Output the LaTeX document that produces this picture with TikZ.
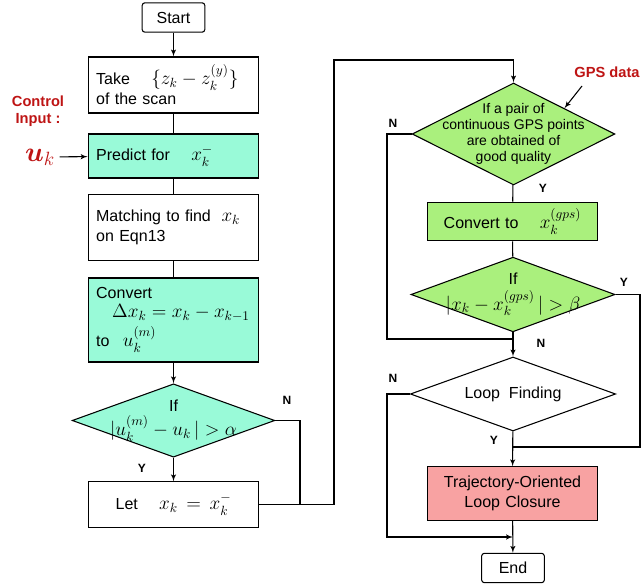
\documentclass[tikz,border=0pt]{standalone}
\usepackage{amssymb,amsmath}
\usepackage{fontspec}
\setmainfont{Liberation Sans}
\usepackage{tikz}
\usetikzlibrary{arrows,shapes}
\definecolor{mint}{RGB}{153,250,216}
\definecolor{lgreen}{RGB}{170,240,125}
\definecolor{rose}{RGB}{248,162,162}
\definecolor{darkred}{RGB}{190,20,20}
\newcommand{\mth}[1]{{\fontsize{14.5}{16}\selectfont$#1$}}
\tikzstyle{term}=[rectangle,rounded corners=2pt,draw,line width=0.8pt,minimum width=47pt,minimum height=22pt,font=\fontsize{12}{14}\selectfont]
\tikzstyle{box}=[rectangle,draw,line width=0.8pt,minimum width=128pt,text width=116pt,inner xsep=6pt,align=left,font=\fontsize{12}{15}\selectfont]
\tikzstyle{cbox}=[box,align=center]
\tikzstyle{decision}=[diamond,draw,line width=0.8pt,inner sep=-22pt,minimum width=152pt,align=center,font=\fontsize{12}{15}\selectfont]
\tikzstyle{yn}=[font=\fontsize{9}{10}\selectfont\bfseries]
\tikzstyle{edge} = [draw,line width=0.8pt,-]
\tikzstyle{arrow} = [draw,line width=0.8pt,->,>=latex']

\begin{document}
\begin{tikzpicture}[x=0.75pt,y=-0.75pt]
        \useasboundingbox (0,0) rectangle (644,588);
        % left column
        \node[term] (start) at (173.5,17.5) {Start};
        \node[box,minimum height=42pt] (take) at (173.5,85) {Take \quad \mth{\{z_k - z_k^{(y)}\}}\\of the scan};
        \node[box,fill=mint,minimum height=33pt] (predict) at (173.5,156) {Predict for \quad \mth{x_k^-}};
        \node[box,minimum height=49pt] (match) at (173.5,227.5) {Matching to find \ \mth{x_k}\\on Eqn13};
        \node[box,fill=mint,minimum height=63pt] (convert) at (173.5,320) {Convert\\[-1pt]\hspace*{12pt}\mth{\Delta x_k = x_k - x_{k-1}}\\[3pt]to\hspace{10pt}\mth{u_k^{(m)}}};
        \node[decision,fill=mint,minimum height=55pt] (check) at (173.5,420.5) {If\\[3pt]\mth{|u_k^{(m)} - u_k\,| > \alpha}};
        \node[cbox,minimum height=34pt] (let) at (173.5,504.5) {Let \quad \mth{x_k = x_k^-}};
        \node[text=darkred,font=\fontsize{11}{13}\selectfont\bfseries,align=center] (ctrl) at (38,111) {Control\\Input :};
        \node[text=darkred,font=\fontsize{20}{22}\selectfont] (uk) at (40,157) {$\boldsymbol{u}_k$};
        % right column
        \node[decision,fill=lgreen,minimum height=76.5pt,font=\fontsize{10.5}{12}\selectfont] (gps) at (513.5,134) {If a pair of\\continuous GPS points\\are obtained of\\good quality};
        \node[text=darkred,font=\fontsize{11}{13}\selectfont\bfseries] (gpsdata) at (607,72) {GPS data};
        \coordinate (gpsfrom) at (582,86);
        \node[cbox,fill=lgreen,minimum height=29pt] (gpsconv) at (512.5,221.5) {Convert to \quad \mth{x_k^{(gps)}}};
        \node[decision,fill=lgreen,minimum height=56pt,minimum width=153pt] (gpscheck) at (513,294.5) {If\\[4pt]\mth{|x_k - x_k^{(gps)}\,| > \beta}};
        \node[decision,minimum height=55.5pt,minimum width=154pt] (loop) at (513,394) {Loop \ Finding};
        \node[cbox,fill=rose,minimum height=40pt] (closure) at (512.5,493.5) {Trajectory-Oriented\\Loop Closure};
        \node[term] (end) at (513,568) {End};
        % corners of the loops
        \coordinate (c1) at (300,420.5);
        \coordinate (c2) at (334,60);
        \coordinate (c3) at (387,134);
        \coordinate (c4) at (513,339);
        \coordinate (c5) at (640,294.5);
        \coordinate (c6) at (513,447);
        \coordinate (c7) at (387,394);
        \coordinate (c8) at (513,537);
        % labels
        \node[yn] (n1) at (287,400) {N};
        \node[yn] (y1) at (142,468) {Y};
        \node[yn] (n2) at (393,123) {N};
        \node[yn] (y2) at (543,188) {Y};
        \node[yn] (y3) at (624,282) {Y};
        \node[yn] (n3) at (541,343) {N};
        \node[yn] (n4) at (393,378) {N};
        \node[yn] (y4) at (494,440) {Y};
        % connectors
        \draw[arrow] (start) to (take);
        \draw[edge] (take) to (predict);
        \draw[edge] (predict) to (match);
        \draw[edge] (match) to (convert);
        \draw[arrow] (convert) to (check);
        \draw[arrow] (check) to (let);
        \draw[arrow] (uk) to (predict);
        \draw[edge] (check.east) -- (c1) |- (let.east);
        \draw[arrow] (let.east) -| (c2) -| (gps.north);
        \draw[arrow] (gpsfrom) to (gps.north east);
        \draw[edge] (gps) to (gpsconv);
        \draw[edge] (gpsconv) to (gpscheck);
        \draw[edge] (gps.west) -| (c3) |- (c4);
        \draw[arrow] (gpscheck) to (loop);
        \draw[edge] (gpscheck.east) -- (c5) |- (c6);
        \draw[arrow] (loop) to (closure);
        \draw[arrow] (loop.west) -| (c7) |- (c8);
        \draw[arrow] (closure) to (end);
      \end{tikzpicture}
\end{document}
